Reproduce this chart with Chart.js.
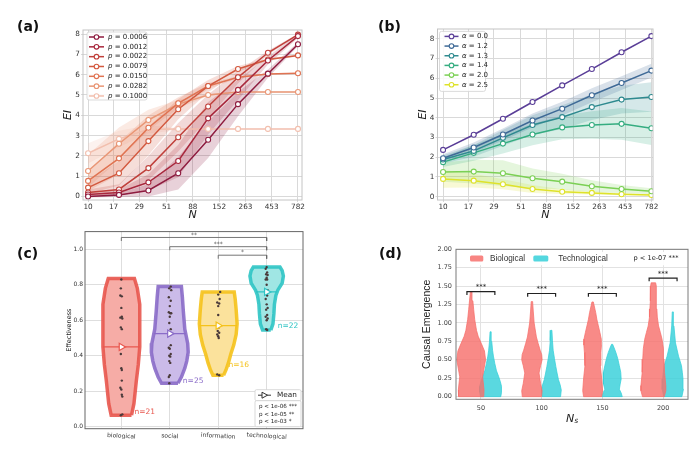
<!DOCTYPE html>
<html>
<head>
<meta charset="utf-8">
<title>EI and causal emergence panels</title>
<script src="https://cdn.jsdelivr.net/npm/chart.js@4.4.1/dist/chart.umd.min.js"></script>
<style>
  body { margin: 0; width: 700px; height: 452px; background: #fff; position: relative; overflow: hidden; }
  .panel { position: absolute; width: 350px; height: 226px; }
  .tag { position: absolute; font: bold 14px "DejaVu Sans", sans-serif; color: #111; }
</style>
</head>
<body>
<div class="panel" style="left:0;top:0"><canvas id="chart_a" width="350" height="226"></canvas></div>
<div class="panel" style="left:350px;top:0"><canvas id="chart_b" width="350" height="226"></canvas></div>
<div class="panel" style="left:0;top:226px"><canvas id="chart_c" width="350" height="226"></canvas></div>
<div class="panel" style="left:350px;top:226px"><canvas id="chart_d" width="350" height="226"></canvas></div>
<div class="tag" style="left:17px;top:18px">(a)</div>
<div class="tag" style="left:378px;top:18px">(b)</div>
<div class="tag" style="left:17px;top:245px">(c)</div>
<div class="tag" style="left:379px;top:245px">(d)</div>
<script>
// ---------- (a) / (b) : EI against N ----------
const nTicks = [10, 17, 29, 51, 88, 152, 263, 453, 782]
const nValues = [10, 19, 35, 65, 121, 225, 419, 782]
const eiTicks = [0, 1, 2, 3, 4, 5, 6, 7, 8]

const pLabels = ['0.0006', '0.0012', '0.0022', '0.0079', '0.0150', '0.0282', '0.1000']
const pColors = ['#8e1b3f', '#a8283d', '#c0403b', '#d3593f', '#e07352', '#e99675', '#f2bfae']
const eiP1 = [0.00, 0.08, 0.30, 1.15, 2.80, 4.55, 6.05, 7.50]
const eiP2 = [0.10, 0.20, 0.70, 1.75, 3.85, 5.25, 6.70, 7.90]
const eiP3 = [0.20, 0.35, 1.40, 2.92, 4.43, 5.87, 7.08, 7.97]
const eiP4 = [0.44, 1.15, 2.73, 4.30, 5.44, 6.28, 6.75, 6.95]
const eiP5 = [0.77, 1.88, 3.39, 4.59, 5.44, 5.87, 6.03, 6.07]
const eiP6 = [1.26, 2.60, 3.77, 4.55, 5.00, 5.15, 5.15, 5.15]
const eiP7 = [2.13, 2.84, 3.31, 3.33, 3.33, 3.33, 3.33, 3.33]
const sdP1 = [0.05, 0.10, 0.30, 0.80, 0.90, 0.60, 0.20, 0.10]
const sdP2 = [0.10, 0.15, 0.40, 0.80, 0.80, 0.50, 0.20, 0.10]
const sdP3 = [0.15, 0.25, 0.60, 0.70, 0.60, 0.30, 0.10, 0.05]
const sdP4 = [0.30, 0.60, 0.70, 0.50, 0.30, 0.15, 0.05, 0.05]
const sdP5 = [0.50, 0.80, 0.60, 0.30, 0.15, 0.05, 0.03, 0.03]
const sdP6 = [0.80, 0.80, 0.50, 0.20, 0.05, 0.03, 0.02, 0.02]
const sdP7 = [0.50, 0.40, 0.20, 0.05, 0.02, 0.01, 0.01, 0.01]

const aLabels = ['0.0', '1.2', '1.3', '1.4', '2.0', '2.5']
const aColors = ['#5b3f98', '#3f6a97', '#2e8a8f', '#35ad80', '#7bd054', '#dee22b']
const eiA1 = [2.37, 3.14, 3.95, 4.80, 5.64, 6.47, 7.32, 8.14]
const eiA2 = [1.95, 2.49, 3.15, 3.86, 4.46, 5.14, 5.76, 6.39]
const eiA3 = [1.88, 2.32, 2.98, 3.63, 4.03, 4.54, 4.92, 5.05]
const eiA4 = [1.75, 2.22, 2.69, 3.15, 3.51, 3.63, 3.69, 3.47]
const eiA5 = [1.25, 1.27, 1.19, 0.93, 0.76, 0.53, 0.39, 0.27]
const eiA6 = [0.90, 0.81, 0.63, 0.39, 0.25, 0.19, 0.12, 0.08]
const sdA1 = [0.02, 0.02, 0.02, 0.02, 0.02, 0.02, 0.02, 0.02]
const sdA2 = [0.20, 0.25, 0.30, 0.35, 0.35, 0.35, 0.35, 0.35]
const sdA3 = [0.20, 0.30, 0.40, 0.50, 0.60, 0.65, 0.70, 0.75]
const sdA4 = [0.25, 0.40, 0.50, 0.55, 0.60, 0.70, 0.80, 0.85]
const sdA5 = [0.50, 0.60, 0.65, 0.50, 0.40, 0.30, 0.20, 0.15]
const sdA6 = [0.45, 0.35, 0.25, 0.20, 0.12, 0.08, 0.05, 0.04]

// ---------- (c) : effectiveness violins ----------
const effCats = ['biological', 'social', 'information', 'technological']
const effEdge = ['#e8574e', '#8a6cc8', '#f5c21b', '#2ec4c4']
const effFill = ['#f6aca6', '#cbbbe9', '#fbe29c', '#a0e6e4']
const effTicks = [0, 0.2, 0.4, 0.6, 0.8, 1.0]
const effMean = [0.45, 0.525, 0.57, 0.76]
const effN = ['n=21', 'n=25', 'n=16', 'n=22']
const effNdx = [0.27, 0.27, 0.21, 0.23]
const effNy = [0.084, 0.26, 0.345, 0.568]
const bioEffY = [0.065, 0.13, 0.26, 0.35, 0.45, 0.55, 0.69, 0.78, 0.835]
const bioEffW = [0.21, 0.26, 0.31, 0.35, 0.38, 0.38, 0.38, 0.33, 0.27]
const socEffY = [0.245, 0.28, 0.33, 0.37, 0.42, 0.47, 0.55, 0.65, 0.73, 0.79]
const socEffW = [0.17, 0.24, 0.31, 0.35, 0.38, 0.37, 0.31, 0.28, 0.26, 0.24]
const infEffY = [0.29, 0.32, 0.36, 0.41, 0.46, 0.52, 0.58, 0.66, 0.72, 0.76]
const infEffW = [0.11, 0.16, 0.21, 0.26, 0.32, 0.37, 0.39, 0.37, 0.35, 0.33]
const tecEffY = [0.545, 0.58, 0.64, 0.69, 0.74, 0.77, 0.81, 0.85, 0.88, 0.90]
const tecEffW = [0.085, 0.13, 0.15, 0.16, 0.19, 0.23, 0.32, 0.345, 0.32, 0.275]
const bioEff = [0.83, 0.78, 0.74, 0.735, 0.67, 0.62, 0.615, 0.61, 0.56, 0.55, 0.45, 0.41, 0.33, 0.32, 0.26, 0.22, 0.21, 0.18, 0.17, 0.07, 0.065]
const bioJit = [0.0, -0.01, -0.02, 0.01, 0.0, 0.01, -0.02, 0.02, -0.01, 0.01, 0.0, -0.01, 0.0, 0.01, 0.01, -0.02, 0.0, 0.01, 0.02, 0.02, -0.01]
const socEff = [0.79, 0.78, 0.77, 0.73, 0.71, 0.68, 0.645, 0.64, 0.64, 0.62, 0.585, 0.55, 0.53, 0.52, 0.46, 0.445, 0.44, 0.41, 0.40, 0.395, 0.37, 0.36, 0.29, 0.28, 0.245]
const socJit = [0.02, -0.01, 0.03, -0.02, 0.02, 0.0, -0.02, 0.01, 0.03, 0.0, -0.01, 0.02, -0.02, 0.01, 0.02, -0.02, 0.0, 0.02, -0.01, 0.01, -0.01, 0.01, 0.0, -0.02, -0.01]
const infEff = [0.76, 0.745, 0.72, 0.70, 0.695, 0.68, 0.63, 0.58, 0.56, 0.54, 0.53, 0.52, 0.51, 0.50, 0.295, 0.29]
const infJit = [0.04, 0.0, 0.03, -0.02, 0.02, 0.0, 0.0, -0.02, 0.01, -0.01, 0.02, -0.02, 0.0, 0.01, -0.02, 0.02]
const tecEff = [0.90, 0.89, 0.87, 0.86, 0.855, 0.84, 0.83, 0.83, 0.80, 0.77, 0.75, 0.74, 0.72, 0.69, 0.67, 0.66, 0.63, 0.62, 0.61, 0.60, 0.55, 0.545]
const tecJit = [0.0, -0.02, 0.01, -0.01, 0.02, 0.0, -0.02, 0.01, 0.0, 0.02, -0.01, 0.01, -0.02, 0.0, 0.02, -0.01, 0.01, -0.02, 0.02, 0.0, -0.01, 0.01]
const brFrom = [0, 1, 2]
const brTo = [3, 3, 3]
const brY = [1.067, 1.015, 0.967]
const brStars = ['**', '***', '*']

// ---------- (d) : causal emergence violins ----------
const nsTicks = [50, 100, 150, 200]
const ceTicks = [0, 0.25, 0.5, 0.75, 1.0, 1.25, 1.5, 1.75, 2.0]
const ceBracketY = [1.425, 1.40, 1.40, 1.61]
const bioCe50Y = [0.0, 0.09, 0.27, 0.5, 0.62, 0.72, 0.82, 0.9, 1.05, 1.18, 1.3, 1.42]
const bioCe50W = [9.0, 9.2, 8.2, 10.3, 9.5, 7.3, 5.0, 3.8, 2.5, 1.8, 1.2, 0.6]
const tecCe50Y = [0.0, 0.06, 0.14, 0.2, 0.27, 0.35, 0.45, 0.55, 0.63, 0.75, 0.88]
const tecCe50W = [7.3, 7.8, 7.8, 7.0, 5.8, 4.2, 3.0, 2.0, 1.4, 0.8, 0.4]
const bioCe100Y = [0.0, 0.08, 0.18, 0.32, 0.42, 0.5, 0.57, 0.63, 0.72, 0.81, 1.0, 1.15, 1.29]
const bioCe100W = [6.9, 7.3, 6.2, 5.1, 6.2, 7.3, 7.0, 5.9, 4.5, 3.2, 1.6, 1.0, 0.5]
const tecCe100Y = [0.0, 0.09, 0.16, 0.23, 0.32, 0.41, 0.52, 0.63, 0.76, 0.9]
const tecCe100W = [6.6, 7.1, 6.3, 5.1, 4.1, 3.2, 2.2, 1.3, 0.8, 0.4]
const bioCe150Y = [0.0, 0.08, 0.24, 0.42, 0.6, 0.7, 0.78, 0.87, 0.96, 1.05, 1.14, 1.285]
const bioCe150W = [6.5, 7.1, 6.5, 5.5, 5.9, 6.3, 6.2, 5.2, 4.1, 3.0, 2.2, 0.5]
const tecCe150Y = [0.0, 0.05, 0.1, 0.17, 0.24, 0.33, 0.42, 0.52, 0.6, 0.66, 0.71]
const tecCe150W = [7.3, 6.5, 5.2, 5.8, 6.5, 6.2, 5.2, 4.0, 2.7, 1.5, 0.4]
const bioCe200Y = [0.0, 0.08, 0.15, 0.33, 0.51, 0.65, 0.78, 0.87, 0.96, 1.08, 1.19, 1.3, 1.41, 1.5, 1.545]
const bioCe200W = [7.8, 8.9, 8.9, 8.0, 7.6, 7.2, 6.2, 5.0, 3.7, 2.8, 2.5, 2.2, 2.1, 2.0, 1.6]
const tecCe200Y = [0.0, 0.1, 0.24, 0.33, 0.42, 0.55, 0.73, 0.96, 1.15]
const tecCe200W = [6.5, 7.6, 7.3, 6.8, 6.2, 4.1, 1.9, 0.8, 0.4]

const FONT = '"DejaVu Sans", sans-serif'
const ARIAL = '"Liberation Sans", Arial, sans-serif'
Chart.defaults.font.family = FONT
Chart.defaults.animation = false
Chart.defaults.plugins.legend.display = false
Chart.defaults.plugins.tooltip.enabled = false

function hexA(hex, a) {
  let n = parseInt(hex.slice(1), 16)
  return `rgba(${(n >> 16) & 255}, ${(n >> 8) & 255}, ${n & 255}, ${a})`
}

function fixedTicks(values) {
  return scale => { scale.ticks = values.map(v => ({value: v})) }
}

// full box around the plot area
function frame(color, width) {
  return {
    id: 'frame',
    afterDraw(chart) {
      let {ctx, chartArea: a} = chart
      ctx.save()
      ctx.strokeStyle = color
      ctx.lineWidth = width
      ctx.strokeRect(a.left, a.top, a.right - a.left, a.bottom - a.top)
      ctx.restore()
    }
  }
}

function roundBox(ctx, x, y, w, h, r, fill, stroke) {
  ctx.beginPath()
  ctx.roundRect(x, y, w, h, r)
  ctx.fillStyle = fill
  ctx.fill()
  if (stroke) { ctx.strokeStyle = stroke; ctx.lineWidth = 0.8; ctx.stroke() }
}

// line + open circle legend, with italic symbol
function eiLegend(labels, colors, symbol, box) {
  return {
    id: 'eiLegend',
    afterDraw(chart) {
      let {ctx, chartArea: a} = chart
      let x0 = a.left + box.dx, y0 = a.top + box.dy
      ctx.save()
      roundBox(ctx, x0, y0, box.w, box.h, 2, 'rgba(255,255,255,0.85)', '#d2d2d2')
      ctx.textBaseline = 'middle'
      labels.forEach((lab, i) => {
        let y = y0 + box.first + i * box.step
        ctx.strokeStyle = colors[i]
        ctx.lineWidth = 1.5
        ctx.beginPath()
        ctx.moveTo(x0 + box.lx1, y)
        ctx.lineTo(x0 + box.lx2, y)
        ctx.stroke()
        ctx.beginPath()
        ctx.arc(x0 + (box.lx1 + box.lx2) / 2, y, 2.3, 0, Math.PI * 2)
        ctx.fillStyle = '#fff'
        ctx.fill()
        ctx.lineWidth = 1.1
        ctx.stroke()
        ctx.fillStyle = '#222'
        ctx.font = `italic 7px ${FONT}`
        ctx.fillText(symbol, x0 + box.tx, y)
        let w = ctx.measureText(symbol).width
        ctx.font = `7px ${FONT}`
        ctx.fillText(' = ' + lab, x0 + box.tx + w, y)
      })
      ctx.restore()
    }
  }
}

function eiChart(id, series, spreads, colors, labels, symbol, lay, box) {
  let datasets = []
  series.forEach((s, i) => {
    datasets.push({
      data: nValues.map((x, j) => ({x, y: s[j]})),
      borderColor: colors[i], borderWidth: 1.5,
      pointRadius: 2.5, pointBorderWidth: 1.1,
      pointBackgroundColor: '#fff', pointBorderColor: colors[i],
      fill: false, order: 0
    })
  })
  series.forEach((s, i) => {
    let low = datasets.length
    datasets.push({
      data: nValues.map((x, j) => ({x, y: s[j] - spreads[i][j]})),
      borderWidth: 0, pointRadius: 0, fill: false, order: 1
    })
    datasets.push({
      data: nValues.map((x, j) => ({x, y: s[j] + spreads[i][j]})),
      borderWidth: 0, pointRadius: 0, fill: low,
      backgroundColor: hexA(colors[i], 0.2), order: 1
    })
  })

  return new Chart(document.getElementById(id), {
    type: 'line',
    data: {datasets},
    options: {
      responsive: false,
      layout: {padding: lay.padding},
      scales: {
        x: {
          type: 'logarithmic', min: lay.xMin, max: lay.xMax,
          afterBuildTicks: fixedTicks(nTicks),
          afterFit: s => { s.height = lay.xH },
          grid: {color: '#d9d9d9', lineWidth: 1, tickLength: 2},
          border: {display: false},
          ticks: {font: {size: 7.3}, color: '#333', padding: 1, maxRotation: 0, autoSkip: false, callback: v => String(v)},
          title: {display: true, text: 'N', font: {size: 11, style: 'italic'}, color: '#222', padding: {top: 0, bottom: 4}}
        },
        y: {
          min: -0.17, max: lay.yMax,
          afterBuildTicks: fixedTicks(eiTicks),
          afterFit: s => { s.width = lay.yW },
          grid: {color: '#d9d9d9', lineWidth: 1, tickLength: 2},
          border: {display: false},
          ticks: {font: {size: 7.3}, color: '#333', padding: 1},
          title: {display: true, text: 'EI', font: {size: 11, style: 'italic'}, color: '#222', padding: {top: 4, bottom: 0}}
        }
      }
    },
    plugins: [frame('#c4c4c4', 1), eiLegend(labels, colors, symbol, box)]
  })
}

eiChart('chart_a',
  [eiP1, eiP2, eiP3, eiP4, eiP5, eiP6, eiP7],
  [sdP1, sdP2, sdP3, sdP4, sdP5, sdP6, sdP7],
  pColors, pLabels, 'p',
  {padding: {left: 58, top: 30, right: 48, bottom: 0}, xH: 26, yW: 25, xMin: 9.0, xMax: 850, yMax: 8.2},
  {dx: 4, dy: 2, w: 60, h: 68, first: 5, step: 9.83, lx1: 2, lx2: 17, tx: 21})

eiChart('chart_b',
  [eiA1, eiA2, eiA3, eiA4, eiA5, eiA6],
  [sdA1, sdA2, sdA3, sdA4, sdA5, sdA6],
  aColors, aLabels, 'α',
  {padding: {left: 63, top: 29, right: 47, bottom: 0}, xH: 26, yW: 24.5, xMin: 8.9, xMax: 809, yMax: 8.5},
  {dx: 2, dy: 2.4, w: 46, h: 60, first: 5, step: 9.67, lx1: 5, lx2: 19, tx: 22.5})

// ---------- violin helpers ----------
function violinOutline(cx, ys, ws, k) {
  let right = ys.map((y, i) => ({x: cx + ws[i] * k, y}))
  let left = ys.map((y, i) => ({x: cx - ws[i] * k, y})).reverse()
  return [...right, ...left, right[0]]
}

function widthAt(ys, ws, v) {
  for (let i = 1; i < ys.length; i++) {
    if (v <= ys[i]) {
      let t = (v - ys[i - 1]) / (ys[i] - ys[i - 1])
      return ws[i - 1] + t * (ws[i] - ws[i - 1])
    }
  }
  return ws[ws.length - 1]
}

// ---------- (c) chart ----------
const effProfiles = [[bioEffY, bioEffW], [socEffY, socEffW], [infEffY, infEffW], [tecEffY, tecEffW]]
const effPoints = [[bioEff, bioJit], [socEff, socJit], [infEff, infJit], [tecEff, tecJit]]

let cSets = []
effProfiles.forEach(([ys, ws], i) => {
  cSets.push({
    data: violinOutline(i, ys, ws, 1), fill: 'shape',
    backgroundColor: effFill[i], borderColor: hexA(effEdge[i], 0.9), borderWidth: 3.5,
    pointRadius: 0, order: 3
  })
  let wm = widthAt(ys, ws, effMean[i])
  cSets.push({
    data: [{x: i - wm, y: effMean[i]}, {x: i + wm, y: effMean[i]}],
    borderColor: effEdge[i], borderWidth: 1.3, pointRadius: 0, fill: false, order: 2
  })
})
effPoints.forEach(([vals, jit], i) => {
  cSets.push({
    data: vals.map((v, j) => ({x: i + jit[j], y: v})), showLine: false,
    pointRadius: 1.2, pointBorderWidth: 0, pointBackgroundColor: '#4a3a3a', order: 1
  })
})
effMean.forEach((m, i) => {
  cSets.push({
    data: [{x: i, y: m}], showLine: false, pointStyle: 'triangle', rotation: 90,
    pointRadius: 4.2, pointBorderWidth: 1.2, pointBackgroundColor: '#fff', pointBorderColor: effEdge[i], order: 0
  })
})
brFrom.forEach((f, i) => {
  let t = brTo[i], y = brY[i]
  cSets.push({
    data: [{x: f, y: y - 0.02}, {x: f, y}, {x: t, y}, {x: t, y: y - 0.02}],
    borderColor: '#666', borderWidth: 0.9, pointRadius: 0, fill: false, order: 0
  })
})

const effText = {
  id: 'effText',
  afterDraw(chart) {
    let {ctx, chartArea: a, scales: {x, y}} = chart
    ctx.save()
    ctx.textBaseline = 'middle'
    ctx.font = `7.5px ${FONT}`
    effN.forEach((t, i) => {
      ctx.fillStyle = effEdge[i]
      ctx.fillText(t, x.getPixelForValue(i + effNdx[i]), y.getPixelForValue(effNy[i]))
    })
    ctx.fillStyle = '#555'
    ctx.font = `6px ${FONT}`
    ctx.textAlign = 'center'
    brFrom.forEach((f, i) => {
      ctx.fillText(brStars[i], x.getPixelForValue((f + brTo[i]) / 2), y.getPixelForValue(brY[i]) - 2.5)
    })
    // category labels, tilted slightly clockwise
    ctx.fillStyle = '#333'
    effCats.forEach((c, i) => {
      ctx.save()
      ctx.translate(x.getPixelForValue(i), a.bottom + 7.5)
      ctx.rotate(0.06)
      ctx.fillText(c, 0, 0)
      ctx.restore()
    })
    // legend boxes
    let bx = a.right - 48, bw = 46
    roundBox(ctx, bx, a.bottom - 39, bw, 11, 1.5, '#fff', '#cfcfcf')
    roundBox(ctx, bx, a.bottom - 28, bw, 26, 1.5, '#fff', '#cfcfcf')
    let my = a.bottom - 33.5
    ctx.strokeStyle = '#333'
    ctx.lineWidth = 1
    ctx.beginPath()
    ctx.moveTo(bx + 3, my)
    ctx.lineTo(bx + 16, my)
    ctx.stroke()
    ctx.beginPath()
    ctx.moveTo(bx + 7, my - 3)
    ctx.lineTo(bx + 12.5, my)
    ctx.lineTo(bx + 7, my + 3)
    ctx.closePath()
    ctx.fillStyle = '#fff'
    ctx.fill()
    ctx.stroke()
    ctx.textAlign = 'left'
    ctx.fillStyle = '#222'
    ctx.font = `7.3px ${FONT}`
    ctx.fillText('Mean', bx + 22, my)
    ctx.font = `5.6px ${FONT}`
    ctx.fillText('p < 1e-06 ***', bx + 4, a.bottom - 22)
    ctx.fillText('p < 1e-05 **', bx + 4, a.bottom - 14.5)
    ctx.fillText('p < 1e-03 *', bx + 4, a.bottom - 7)
    ctx.restore()
  }
}

new Chart(document.getElementById('chart_c'), {
  type: 'line',
  data: {datasets: cSets},
  options: {
    responsive: false,
    layout: {padding: {left: 61, top: 3.3, right: 47, bottom: 0.3}},
    scales: {
      x: {
        type: 'linear', min: -0.75, max: 3.75,
        afterBuildTicks: fixedTicks([0, 1, 2, 3]),
        afterFit: s => { s.height = 23 },
        grid: {color: '#dedede', drawTicks: false},
        border: {display: false},
        ticks: {font: {size: 6}, color: '#333', padding: 4, maxRotation: 0, callback: () => ''}
      },
      y: {
        min: -0.011, max: 1.1,
        afterBuildTicks: fixedTicks(effTicks),
        afterFit: s => { s.width = 24 },
        grid: {color: '#dedede', drawTicks: false},
        border: {display: false},
        ticks: {font: {size: 6}, color: '#333', padding: 2, callback: v => v.toFixed(1)},
        title: {display: true, text: 'Effectiveness', font: {size: 6.5}, color: '#222', padding: {top: 4, bottom: 0}}
      }
    }
  },
  plugins: [frame('#666', 1), effText]
})

// ---------- (d) chart ----------
const ceBio = [[bioCe50Y, bioCe50W], [bioCe100Y, bioCe100W], [bioCe150Y, bioCe150W], [bioCe200Y, bioCe200W]]
const ceTec = [[tecCe50Y, tecCe50W], [tecCe100Y, tecCe100W], [tecCe150Y, tecCe150W], [tecCe200Y, tecCe200W]]
const bioColor = '#f7706c'
const tecColor = '#36d0d9'

let dSets = []
nsTicks.forEach((c, i) => {
  let [by, bw] = ceBio[i], [ty, tw] = ceTec[i]
  dSets.push({
    data: violinOutline(c - 8, by, bw, 1.15), fill: 'shape',
    backgroundColor: hexA(bioColor, 0.82), borderColor: hexA(bioColor, 0.95), borderWidth: 0.8,
    pointRadius: 0, order: 2
  })
  dSets.push({
    data: violinOutline(c + 8, ty, tw, 1.15), fill: 'shape',
    backgroundColor: hexA(tecColor, 0.82), borderColor: hexA(tecColor, 0.95), borderWidth: 0.8,
    pointRadius: 0, order: 2
  })
  let yb = ceBracketY[i]
  dSets.push({
    data: [{x: c - 11.5, y: yb - 0.045}, {x: c - 11.5, y: yb}, {x: c + 11.5, y: yb}, {x: c + 11.5, y: yb - 0.045}],
    borderColor: '#222', borderWidth: 1.2, pointRadius: 0, fill: false, order: 0
  })
})

const ceText = {
  id: 'ceText',
  afterDraw(chart) {
    let {ctx, chartArea: a, scales: {x, y}} = chart
    ctx.save()
    ctx.textBaseline = 'middle'
    ctx.textAlign = 'center'
    ctx.fillStyle = '#222'
    ctx.font = `7px ${FONT}`
    nsTicks.forEach((c, i) => {
      ctx.fillText('***', x.getPixelForValue(c), y.getPixelForValue(ceBracketY[i]) - 4)
    })
    // legend strip
    roundBox(ctx, a.left + 9, a.top + 2.7, 148, 13.3, 2, 'rgba(255,255,255,0.92)')
    roundBox(ctx, a.left + 160.7, a.top + 2.7, 66.6, 13.3, 2, 'rgba(255,255,255,0.92)')
    let ly = a.top + 9.3
    roundBox(ctx, a.left + 14, ly - 3, 13.3, 6, 1.5, hexA(bioColor, 0.85))
    roundBox(ctx, a.left + 77.3, ly - 3, 15, 6, 1.5, hexA(tecColor, 0.85))
    ctx.textAlign = 'left'
    ctx.fillStyle = '#333'
    ctx.font = `8.2px ${ARIAL}`
    ctx.fillText('Biological', a.left + 34, ly)
    ctx.fillText('Technological', a.left + 102.3, ly)
    ctx.textAlign = 'right'
    ctx.font = `6.6px ${FONT}`
    ctx.fillStyle = '#222'
    ctx.fillText('p < 1e-07 ***', a.left + 222.5, ly)
    // N_s axis title
    ctx.textAlign = 'left'
    ctx.font = `italic 11px ${FONT}`
    let tx = (a.left + a.right) / 2 - 6
    ctx.fillText('N', tx, a.bottom + 19.5)
    let w = ctx.measureText('N').width
    ctx.font = `italic 7.5px ${FONT}`
    ctx.fillText('s', tx + w, a.bottom + 22)
    ctx.restore()
  }
}

new Chart(document.getElementById('chart_d'), {
  type: 'line',
  data: {datasets: dSets},
  options: {
    responsive: false,
    layout: {padding: {left: 66.4, top: 23.3, right: 12, bottom: 22}},
    scales: {
      x: {
        type: 'linear', min: 29.5, max: 220.5,
        afterBuildTicks: fixedTicks(nsTicks),
        afterFit: s => { s.height = 30.7 },
        grid: {color: '#e2e2e2', drawTicks: false},
        border: {display: false},
        ticks: {font: {size: 6.5}, color: '#444', padding: 5.5, maxRotation: 0}
      },
      y: {
        min: -0.036, max: 2.0,
        afterBuildTicks: fixedTicks(ceTicks),
        afterFit: s => { s.width = 39.6 },
        grid: {color: '#e2e2e2', drawTicks: false},
        border: {display: false},
        ticks: {font: {size: 6.5}, color: '#444', padding: 4, callback: v => v.toFixed(2)},
        title: {display: true, text: 'Causal Emergence', font: {size: 10.5, family: ARIAL}, color: '#222', padding: {top: 4, bottom: 0}}
      }
    }
  },
  plugins: [frame('#7a7a7a', 1), ceText]
})
</script>
</body>
</html>
